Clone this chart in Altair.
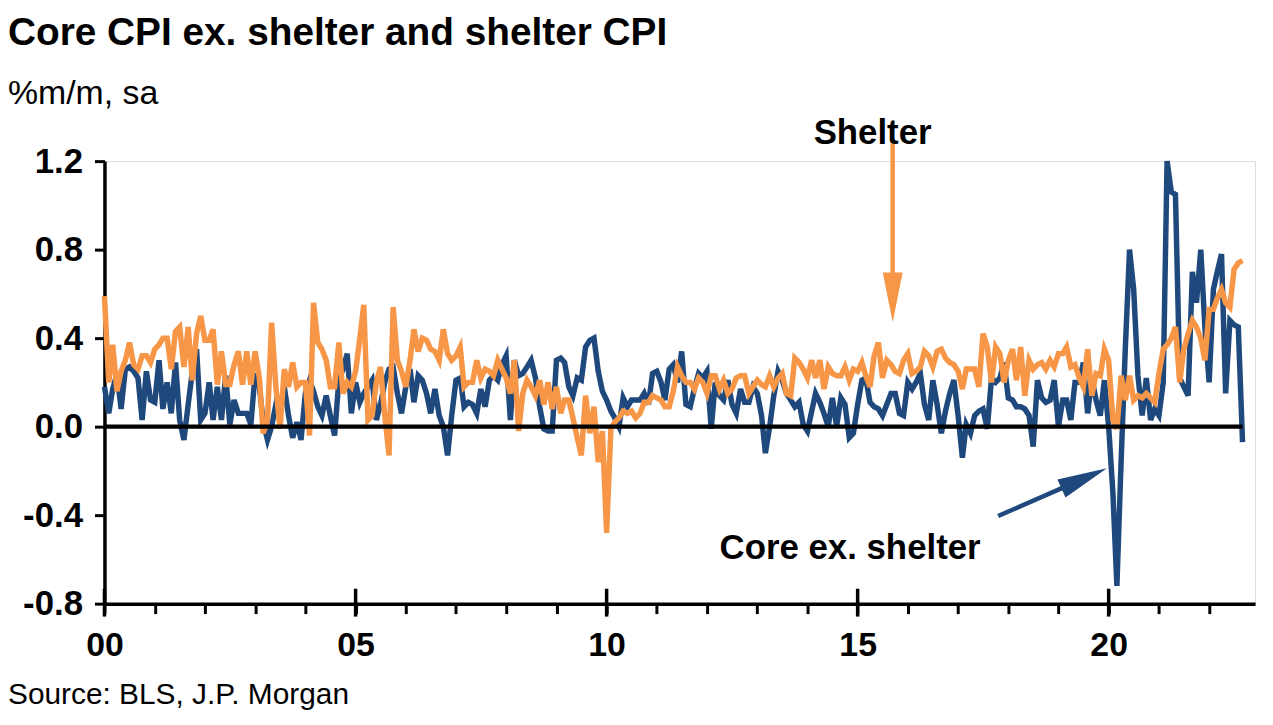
import altair as alt
import pandas as pd

# ---- data (monthly, %m/m sa, from Jan 2000) ----
core_ex_shelter = [
    0.18, 0.06, 0.17, 0.24, 0.08, 0.26, 0.27, 0.25, 0.22, 0.03,
    0.25, 0.12, 0.11, 0.30, 0.08, 0.20, 0.06, 0.29, 0.03, -0.06,
    0.10, 0.25, 0.35, 0.03, 0.06, 0.20, 0.03, 0.18, 0.03, 0.23,
    0.01, 0.12, 0.06, 0.06, 0.06, 0.01, 0.24, 0.18, 0.02, -0.06,
    0.00, 0.10, 0.06, 0.18, 0.05, -0.05, 0.02, -0.06, 0.15, 0.21,
    0.16, 0.09, 0.05, 0.14, 0.05, -0.04, 0.21, 0.26, 0.33, 0.06,
    0.20, 0.11, 0.15, 0.18, 0.21, 0.03, 0.10, 0.20, 0.26, 0.27,
    0.15, 0.06, 0.18, 0.26, 0.11, 0.23, 0.21, 0.15, 0.06, 0.17,
    0.05, 0.00, -0.13, 0.05, 0.21, 0.22, 0.09, 0.11, 0.10, 0.06,
    0.17, 0.09, 0.21, 0.23, 0.21, 0.28, 0.32, 0.03, 0.30, 0.23,
    0.24, 0.27, 0.30, 0.22, 0.09, -0.01, -0.02, -0.02, 0.30, 0.31,
    0.29, 0.18, 0.14, 0.22, 0.21, 0.36, 0.39, 0.40, 0.25, 0.16,
    0.12, 0.07, 0.04, 0.00, 0.13, 0.09, 0.12, 0.12, 0.12, 0.15,
    0.10, 0.24, 0.25, 0.20, 0.12, 0.26, 0.28, 0.20, 0.34, 0.10,
    0.09, 0.17, 0.24, 0.22, 0.25, -0.01, 0.20, 0.14, 0.12, 0.21,
    0.10, 0.06, 0.17, 0.11, 0.11, 0.18, 0.15, 0.05, -0.12, 0.00,
    0.14, 0.25, 0.21, 0.15, 0.12, 0.09, 0.11, 0.01, -0.02, 0.07,
    0.15, 0.11, 0.06, 0.00, 0.13, 0.00, 0.13, 0.10, -0.05, -0.03,
    0.10, 0.21, 0.22, 0.11, 0.09, 0.08, 0.05, 0.10, 0.15, 0.15,
    0.06, 0.05, 0.20, 0.17, 0.20, 0.24, 0.10, 0.03, 0.21, 0.10,
    -0.03, 0.07, 0.15, 0.21, 0.05, -0.14, 0.01, -0.03, 0.05, 0.07,
    0.08, -0.01, 0.22, 0.20, 0.22, 0.29, 0.13, 0.12, 0.09, 0.09,
    0.08, 0.05, -0.09, 0.21, 0.13, 0.11, 0.12, 0.21, 0.00, 0.12,
    0.12, 0.03, 0.20, 0.20, 0.29, 0.06, 0.22, 0.12, 0.05, 0.21,
    0.00, -0.30, -0.72, -0.15, 0.35, 0.80, 0.62, 0.23, 0.05, 0.22,
    0.03, 0.08, 0.05, 0.20, 1.20, 1.06, 1.05, 0.22, 0.18, 0.14,
    0.70, 0.56, 0.80, 0.45, 0.20, 0.62, 0.70, 0.78, 0.15, 0.48,
    0.46, 0.45, -0.07,
]

shelter = [
    0.59, 0.20, 0.37, 0.16, 0.25, 0.30, 0.38, 0.28, 0.26, 0.32,
    0.32, 0.29, 0.35, 0.37, 0.40, 0.40, 0.26, 0.43, 0.45, 0.27,
    0.45, 0.21, 0.42, 0.50, 0.39, 0.39, 0.44, 0.19, 0.34, 0.19,
    0.19, 0.28, 0.34, 0.19, 0.34, 0.19, 0.34, 0.22, -0.03, 0.03,
    0.47, 0.18, -0.01, 0.26, 0.18, 0.29, 0.18, 0.20, 0.20, -0.04,
    0.56, 0.38, 0.35, 0.30, 0.18, 0.18, 0.38, 0.15, 0.20, 0.18,
    0.25, 0.40, 0.55, 0.03, 0.05, 0.20, 0.27, 0.05, -0.13, 0.54,
    0.30, 0.25, 0.18, 0.30, 0.44, 0.34, 0.40, 0.39, 0.35, 0.34,
    0.30, 0.44, 0.33, 0.30, 0.32, 0.36, 0.18, 0.20, 0.20, 0.30,
    0.22, 0.26, 0.25, 0.23, 0.30, 0.26, 0.22, 0.15, 0.30, -0.02,
    0.15, 0.21, 0.18, 0.14, 0.21, 0.10, 0.20, 0.08, 0.18, 0.06,
    0.12, 0.12, 0.04, -0.05, -0.13, 0.14, -0.03, 0.09, -0.16, -0.02,
    -0.48, -0.01, 0.02, 0.04, 0.07, 0.06, 0.07, 0.04, 0.06, 0.11,
    0.11, 0.14, 0.13, 0.12, 0.09, 0.09, 0.16, 0.27, 0.23, 0.20,
    0.20, 0.17, 0.22, 0.20, 0.15, 0.23, 0.23, 0.17, 0.21, 0.15,
    0.17, 0.22, 0.23, 0.23, 0.15, 0.18, 0.21, 0.19, 0.18, 0.23,
    0.18, 0.22, 0.24, 0.15, 0.14, 0.31, 0.29, 0.26, 0.22, 0.30,
    0.22, 0.30, 0.17, 0.27, 0.24, 0.23, 0.23, 0.27, 0.21, 0.26,
    0.25, 0.29, 0.23, 0.18, 0.32, 0.38, 0.22, 0.30, 0.28, 0.25,
    0.24, 0.30, 0.33, 0.24, 0.25, 0.27, 0.34, 0.32, 0.27, 0.34,
    0.35, 0.31, 0.29, 0.28, 0.25, 0.17, 0.26, 0.26, 0.26, 0.18,
    0.42, 0.36, 0.20, 0.36, 0.33, 0.20, 0.30, 0.35, 0.21, 0.36,
    0.14, 0.30, 0.26, 0.28, 0.29, 0.26, 0.30, 0.27, 0.33, 0.33,
    0.36, 0.27, 0.28, 0.22, 0.18, 0.35, 0.14, 0.24, 0.23, 0.35,
    0.30, 0.03, -0.01, 0.23, 0.12, 0.23, 0.12, 0.14, 0.13, 0.15,
    0.13, 0.11, 0.24, 0.35, 0.37, 0.40, 0.45, 0.20, 0.35, 0.42,
    0.48, 0.45, 0.40, 0.30, 0.53, 0.53, 0.58, 0.62, 0.56, 0.54,
    0.71, 0.74, 0.75,
]

start_month = "2000-01-01"
y_ticks = [-0.8, -0.4, 0.0, 0.4, 0.8, 1.2]
minor_years = list(range(2000, 2023))
major_years = [2000, 2005, 2010, 2015, 2020]

NAVY = "#1F497D"
ORANGE = "#F79646"
FONT = "Liberation Sans"

core_df = pd.DataFrame({
    "date": pd.date_range(start_month, periods=len(core_ex_shelter), freq="MS"),
    "value": core_ex_shelter,
})
shel_df = pd.DataFrame({
    "date": pd.date_range(start_month, periods=len(shelter), freq="MS"),
    "value": shelter,
})

x_scale = alt.Scale(domain=[alt.DateTime(year=2000, month=1, date=1),
                            alt.DateTime(year=2022, month=12, date=1)])
y_scale = alt.Scale(domain=[-0.8, 1.2], nice=False, zero=False)

x_axis = alt.Axis(
    values=[alt.DateTime(year=y, month=1, date=1) for y in minor_years],
    labelExpr="year(datum.value) % 5 == 0 ? timeFormat(datum.value, '%y') : ''",
    title=None, grid=False, domainColor="black", domainWidth=3.5,
    tickColor="black", tickWidth=3, tickSize=10,
    labelFont=FONT, labelFontSize=34, labelFontWeight="bold", labelColor="black",
    labelPadding=15, labelFlush=False, labelOverlap=False,
)
y_axis = alt.Axis(
    values=y_ticks,
    labelExpr="(datum.value < 0 ? '-' : '') + format(abs(datum.value), '.1f')",
    title=None, grid=False,
    domainColor="black", domainWidth=3.5, tickColor="black", tickWidth=3,
    tickSize=10, labelFont=FONT, labelFontSize=35, labelFontWeight="bold",
    labelColor="black", labelPadding=12,
)

base_x = alt.X("date:T", scale=x_scale, axis=x_axis)
base_y = alt.Y("value:Q", scale=y_scale, axis=y_axis)

core_line = alt.Chart(core_df).mark_line(color=NAVY, strokeWidth=5.5).encode(x=base_x, y=base_y)
shel_line = alt.Chart(shel_df).mark_line(color=ORANGE, strokeWidth=5.5).encode(x="date:T", y="value:Q")

zero_df = pd.DataFrame({"start": [core_df["date"].min()], "end": [core_df["date"].max()], "v": [0.0]})
zero_line = alt.Chart(zero_df).mark_rule(color="black", strokeWidth=4.5).encode(
    x="start:T", x2="end:T", y="v:Q")

major_df = pd.DataFrame({"date": pd.to_datetime([f"{y}-01-01" for y in major_years])})
major_ticks = alt.Chart(major_df).mark_rule(color="black", strokeWidth=3.5).encode(
    x="date:T", y=alt.value(430), y2=alt.value(458))

# annotations (data coordinates)
arrow_df = pd.DataFrame({
    "x": pd.to_datetime(["2015-09-13", "2017-10-19"]),
    "x2": pd.to_datetime(["2015-09-13", "2019-07-07"]),
    "y": [1.28, -0.404],
    "y2": [0.60, -0.234],
    "c": ["Shelter", "Core ex. shelter"],
})
color_scale = alt.Scale(domain=["Core ex. shelter", "Shelter"], range=[NAVY, ORANGE])
arrows = alt.Chart(arrow_df).mark_rule(strokeWidth=4.5).encode(
    x="x:T", x2="x2:T", y="y:Q", y2="y2:Q",
    color=alt.Color("c:N", scale=color_scale, legend=None))

HEAD = "M0,-1L0.4,1L-0.4,1Z"
head_sh = alt.Chart(pd.DataFrame({"x": pd.to_datetime(["2015-09-13"]), "y": [0.584]})).mark_point(
    shape=HEAD, size=2500, filled=True, opacity=1, strokeWidth=0, color=ORANGE, angle=180
).encode(x="x:T", y="y:Q")
head_core = alt.Chart(pd.DataFrame({"x": pd.to_datetime(["2019-07-07"]), "y": [-0.234]})).mark_point(
    shape=HEAD, size=2500, filled=True, opacity=1, strokeWidth=0, color=NAVY, angle=66
).encode(x="x:T", y="y:Q")

label_df = pd.DataFrame({
    "x": pd.to_datetime(["2015-04-20", "2014-11-07"]),
    "y": [1.276, -0.598],
    "t": ["Shelter", "Core ex. shelter"],
})
labels = alt.Chart(label_df).mark_text(
    font=FONT, fontSize=35, fontWeight="bold", color="black", align="center", baseline="alphabetic"
).encode(x="x:T", y="y:Q", text="t:N")

one = pd.DataFrame({"a": [0]})
title = alt.Chart(one).mark_text(
    font=FONT, fontSize=39, fontWeight="bold", color="black", align="left", baseline="alphabetic"
).encode(x=alt.value(-97), y=alt.value(-117), text=alt.value("Core CPI ex. shelter and shelter CPI"))
subtitle = alt.Chart(one).mark_text(
    font=FONT, fontSize=34, color="black", align="left", baseline="alphabetic"
).encode(x=alt.value(-97), y=alt.value(-57), text=alt.value("%m/m, sa"))
source = alt.Chart(one).mark_text(
    font=FONT, fontSize=30, color="black", align="left", baseline="alphabetic"
).encode(x=alt.value(-97), y=alt.value(546), text=alt.value("Source: BLS, J.P. Morgan"))

chart = alt.layer(
    core_line, shel_line, zero_line, major_ticks, arrows, head_sh, head_core,
    labels, title, subtitle, source,
).properties(
    width=1157, height=445,
    autosize=alt.AutoSizeParams(type="none"),
    padding={"left": 97, "top": 152, "right": 10, "bottom": 110},
).configure_view(stroke=None).configure(background="white")

chart.save("out.html", embed_options={"renderer": "svg", "actions": False})
